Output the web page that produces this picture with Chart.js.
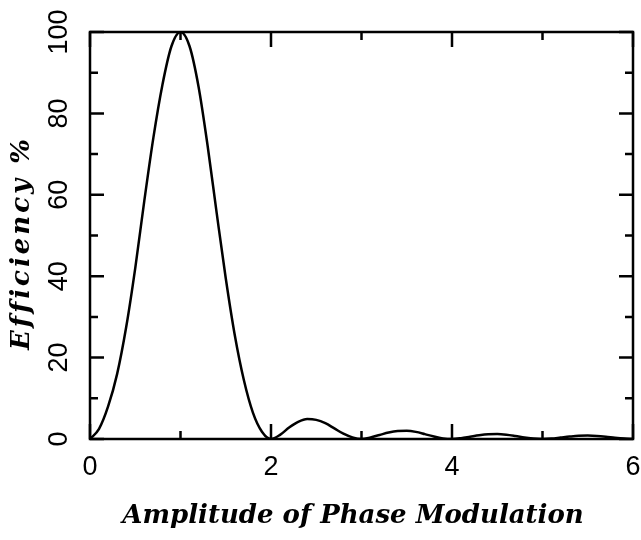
<!DOCTYPE html>
<html>
<head>
<meta charset="utf-8">
<script src="https://cdn.jsdelivr.net/npm/chart.js@4/dist/chart.umd.min.js"></script>
<style>
  html, body { margin: 0; padding: 0; background: #fff; }
  #wrap { width: 641px; height: 540px; }
</style>
</head>
<body>
<div id="wrap"><canvas id="c" width="641" height="540"></canvas></div>
<script>
// amplitude of phase modulation (x) and efficiency % (y)
const amplitude = [
  0.0, 0.1, 0.2, 0.3, 0.4, 0.5, 0.6, 0.7, 0.8, 0.9,
  1.0, 1.1, 1.2, 1.3, 1.4, 1.5, 1.6, 1.7, 1.8, 1.9,
  2.0, 2.1, 2.2, 2.3, 2.4, 2.5, 2.6, 2.7, 2.8, 2.9,
  3.0, 3.1, 3.2, 3.3, 3.4, 3.5, 3.6, 3.7, 3.8, 3.9,
  4.0, 4.1, 4.2, 4.3, 4.4, 4.5, 4.6, 4.7, 4.8, 4.9,
  5.0, 5.1, 5.2, 5.3, 5.4, 5.5, 5.6, 5.7, 5.8, 5.9, 6.0
];
const efficiency = [
  0, 2.5, 8, 16, 27.5, 42, 58.5, 74, 87, 96.5,
  100, 96.5, 86.5, 72, 55.5, 39.5, 25.5, 14.5, 6.5, 1.8,
  0, 1.0, 2.8, 4.2, 4.9, 4.7, 3.9, 2.6, 1.3, 0.4,
  0, 0.4, 1.0, 1.6, 1.95, 2.0, 1.75, 1.2, 0.6, 0.15,
  0, 0.2, 0.55, 0.9, 1.15, 1.2, 1.05, 0.75, 0.4, 0.1,
  0, 0.1, 0.35, 0.6, 0.8, 0.85, 0.75, 0.55, 0.3, 0.1, 0
];
const xMajor = [0, 2, 4, 6];
const xMinor = [1, 3, 5];
const yMajor = [0, 20, 40, 60, 80, 100];
const yMinor = [10, 30, 50, 70, 90];
const xTitle = 'Amplitude of Phase Modulation';
const yTitle = 'Efficiency %';

const frame = {
  id: 'frame',
  afterDraw(chart) {
    const { ctx, chartArea: a, scales } = chart;
    const sx = scales.x, sy = scales.y;
    ctx.save();
    ctx.strokeStyle = '#000';
    ctx.lineWidth = 2.5;
    ctx.strokeRect(a.left, a.top, a.right - a.left, a.bottom - a.top);

    ctx.beginPath();
    const xt = (v, len) => {
      const px = sx.getPixelForValue(v);
      ctx.moveTo(px, a.bottom); ctx.lineTo(px, a.bottom - len);
      ctx.moveTo(px, a.top); ctx.lineTo(px, a.top + len);
    };
    const yt = (v, len) => {
      const py = sy.getPixelForValue(v);
      ctx.moveTo(a.left, py); ctx.lineTo(a.left + len, py);
      ctx.moveTo(a.right, py); ctx.lineTo(a.right - len, py);
    };
    xMajor.forEach(v => xt(v, 15));
    xMinor.forEach(v => xt(v, 8));
    yMajor.forEach(v => yt(v, 14));
    yMinor.forEach(v => yt(v, 8));
    ctx.stroke();

    // tick labels
    ctx.fillStyle = '#000';
    ctx.font = '27px "Liberation Sans", Arial, sans-serif';
    ctx.textAlign = 'center';
    ctx.textBaseline = 'middle';
    xMajor.forEach(v => {
      ctx.fillText(String(v), sx.getPixelForValue(v), 468);
    });
    yMajor.forEach(v => {
      ctx.save();
      ctx.translate(60, sy.getPixelForValue(v));
      ctx.rotate(-Math.PI / 2);
      ctx.fillText(String(v), 0, 0);
      ctx.restore();
    });

    // axis titles
    ctx.font = 'italic bold 26px "DejaVu Serif", serif';
    ctx.fillText(xTitle, 353, 516);
    ctx.save();
    ctx.translate(22, 243);
    ctx.rotate(-Math.PI / 2);
    ctx.letterSpacing = '3px';
    ctx.fillText(yTitle, 0, 0);
    ctx.restore();
    ctx.restore();
  }
};

new Chart(document.getElementById('c').getContext('2d'), {
  type: 'line',
  data: {
    datasets: [{
      data: amplitude.map((x, i) => ({ x: x, y: efficiency[i] })),
      borderColor: '#000',
      borderWidth: 2.5,
      pointRadius: 0,
      cubicInterpolationMode: 'monotone',
      fill: false
    }]
  },
  options: {
    responsive: false,
    animation: false,
    layout: { padding: { left: 90, right: 8, top: 32, bottom: 101 } },
    plugins: { legend: { display: false }, tooltip: { enabled: false } },
    scales: {
      x: { type: 'linear', min: 0, max: 6, display: false },
      y: { min: 0, max: 100, display: false }
    }
  },
  plugins: [frame]
});
</script>
</body>
</html>
